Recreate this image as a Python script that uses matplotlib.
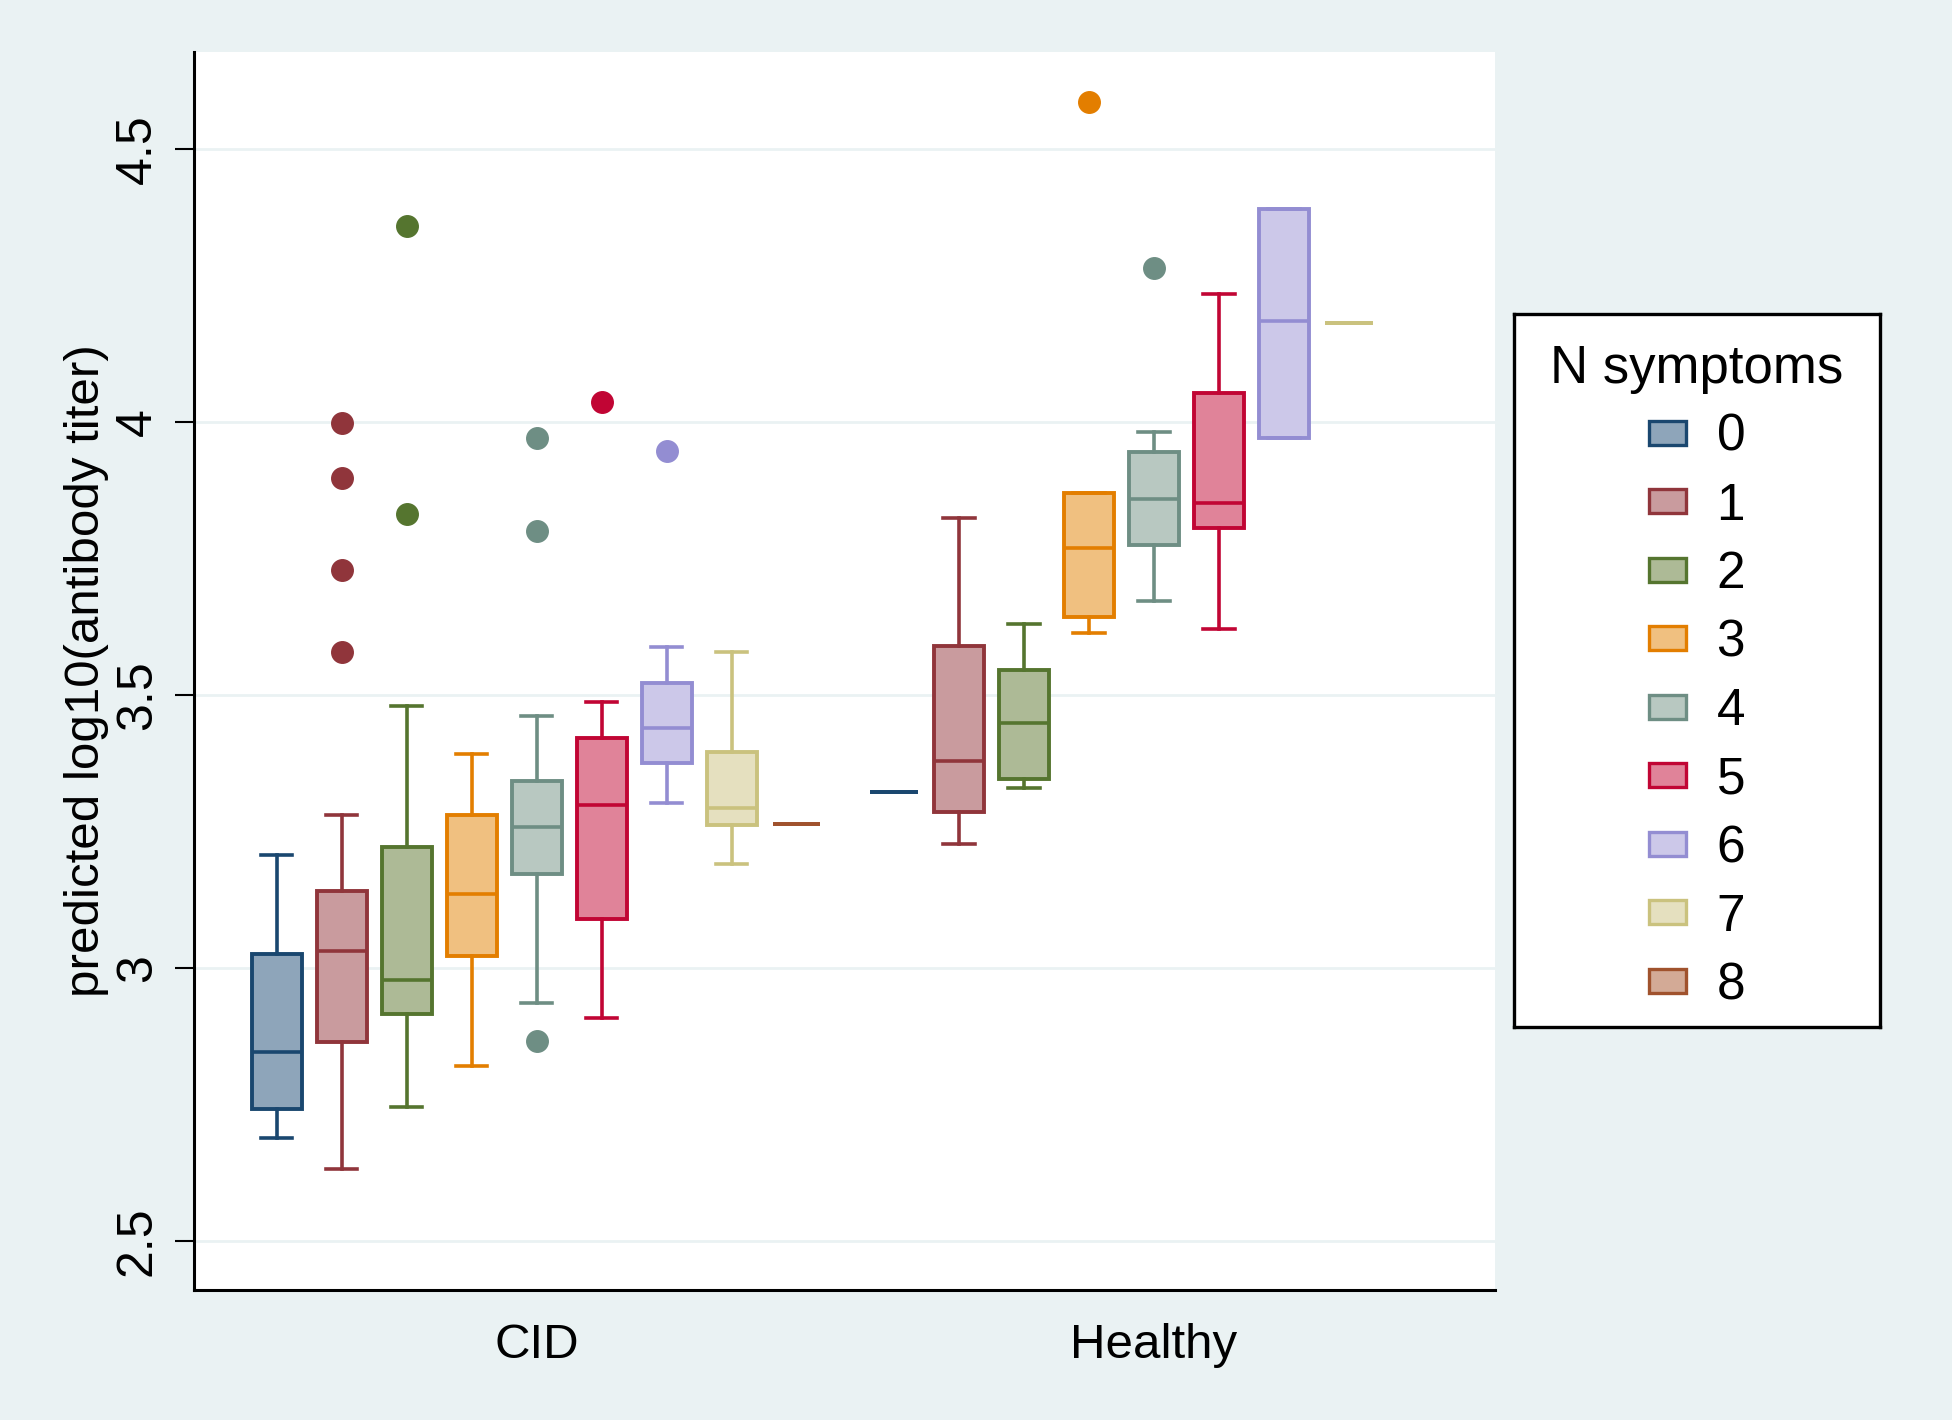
import matplotlib
matplotlib.use('Agg')
import matplotlib.pyplot as plt
from matplotlib.patches import Patch

plt.rcParams['font.family'] = ['Liberation Sans', 'DejaVu Sans']

# data
groups = ['CID', 'Healthy']
n_symptoms = ['0', '1', '2', '3', '4', '5', '6', '7', '8']

# (whislo, q1, med, q3, whishi)
cid_stats = [
    (2.689, 2.742, 2.847, 3.027, 3.207),
    (2.632, 2.865, 3.031, 3.141, 3.280),
    (2.746, 2.917, 2.979, 3.223, 3.481),
    (2.822, 3.022, 3.136, 3.280, 3.392),
    (2.936, 3.173, 3.259, 3.344, 3.462),
    (2.910, 3.091, 3.300, 3.421, 3.487),
    (3.303, 3.376, 3.440, 3.522, 3.588),
    (3.191, 3.262, 3.294, 3.396, 3.579),
    (3.264, 3.264, 3.264, 3.264, 3.264),
]
cid_outliers = [
    [],
    [3.998, 3.898, 3.729, 3.579],
    [4.359, 3.832],
    [],
    [3.971, 3.800, 2.867],
    [4.037],
    [3.948],
    [],
    [],
]
healthy_stats = [
    (3.323, 3.323, 3.323, 3.323, 3.323),
    (3.227, 3.287, 3.380, 3.590, 3.825),
    (3.330, 3.346, 3.449, 3.547, 3.631),
    (3.615, 3.643, 3.770, 3.871, 3.871),
    (3.672, 3.775, 3.859, 3.946, 3.982),
    (3.622, 3.807, 3.852, 4.053, 4.235),
    (3.971, 3.971, 4.185, 4.391, 4.391),
    (4.181, 4.181, 4.181, 4.181, 4.181),
]
healthy_outliers = [[], [], [], [4.587], [4.283], [], [], []]

edge_colors = ['#1a476f', '#90353b', '#55752f', '#e37e00', '#6e8e84',
               '#c10534', '#938dd2', '#cac27e', '#a0522d']
fill_colors = ['#8ea5ba', '#c99b9e', '#adba96', '#f0c080', '#b8c8c1',
               '#e08399', '#ccc8e9', '#e5e0bf', '#d3aa96']

bg = '#eaf2f3'
fig = plt.figure(figsize=(19.52, 14.2), dpi=100, facecolor=bg)
ax = fig.add_axes([0.0994, 0.0915, 0.6666, 0.8719])
ax.set_facecolor('white')

def draw_box(stats, fliers, pos, k):
    lo, q1, med, q3, hi = stats
    single = lo == hi
    d = dict(whislo=lo, q1=q1, med=med, q3=q3, whishi=hi, fliers=fliers)
    ec = edge_colors[k]
    ax.bxp([d], positions=[pos], widths=0.73 if single else 0.77,
           capwidths=0.49, patch_artist=True, showcaps=not single,
           boxprops=dict(facecolor=fill_colors[k], edgecolor=ec, linewidth=2.8),
           medianprops=dict(color=ec, linewidth=2.6),
           whiskerprops=dict(color=ec, linewidth=2.6),
           capprops=dict(color=ec, linewidth=2.6),
           flierprops=dict(marker='o', markerfacecolor=ec, markeredgecolor=ec,
                           markersize=15.5))

for k, (s, f) in enumerate(zip(cid_stats, cid_outliers)):
    draw_box(s, f, k, k)
for k, (s, f) in enumerate(zip(healthy_stats, healthy_outliers)):
    draw_box(s, f, 9.5 + k, k)

ax.set_xlim(-1.27, 18.75)
ax.set_ylim(2.411, 4.678)
ax.set_xticks([4, 13.5])
ax.set_xticklabels(groups, fontsize=35.5)
ax.set_yticks([2.5, 3, 3.5, 4, 4.5])
ax.set_yticklabels(['2.5', '3', '3.5', '4', '4.5'], fontsize=36)
ax.tick_params(axis='y', labelrotation=90, length=14, width=1.5, pad=10)
ax.tick_params(axis='x', length=0, pad=24)
for lab in ax.get_yticklabels():
    lab.set_va('center')
ax.yaxis.grid(True, color=bg, linewidth=2)
ax.set_axisbelow(True)
for side in ['top', 'right']:
    ax.spines[side].set_visible(False)
for side in ['left', 'bottom']:
    ax.spines[side].set_linewidth(2.2)
ax.set_ylabel('predicted log10(antibody titer)', fontsize=35.5, labelpad=4)

# legend lives in its own small axes so the frame size can be set directly
lax = fig.add_axes([0.7756, 0.2768, 0.1875, 0.5021])
lax.set_facecolor('white')
lax.set_xticks([])
lax.set_yticks([])
for sp in lax.spines.values():
    sp.set_linewidth(2.4)
    sp.set_color('black')

handles = [Patch(facecolor=fill_colors[k], edgecolor=edge_colors[k], linewidth=2.4)
           for k in range(len(n_symptoms))]
leg = lax.legend(handles, n_symptoms, loc='center', bbox_to_anchor=(0.5, 0.491),
                 fontsize=37, title='N symptoms', title_fontsize=38,
                 frameon=False, handlelength=0.72, handleheight=0.34,
                 handletextpad=0.6, labelspacing=0.38, borderpad=0,
                 borderaxespad=0)
leg._legend_box.sep = 14

fig.savefig('out.png', dpi=100, facecolor=bg)
